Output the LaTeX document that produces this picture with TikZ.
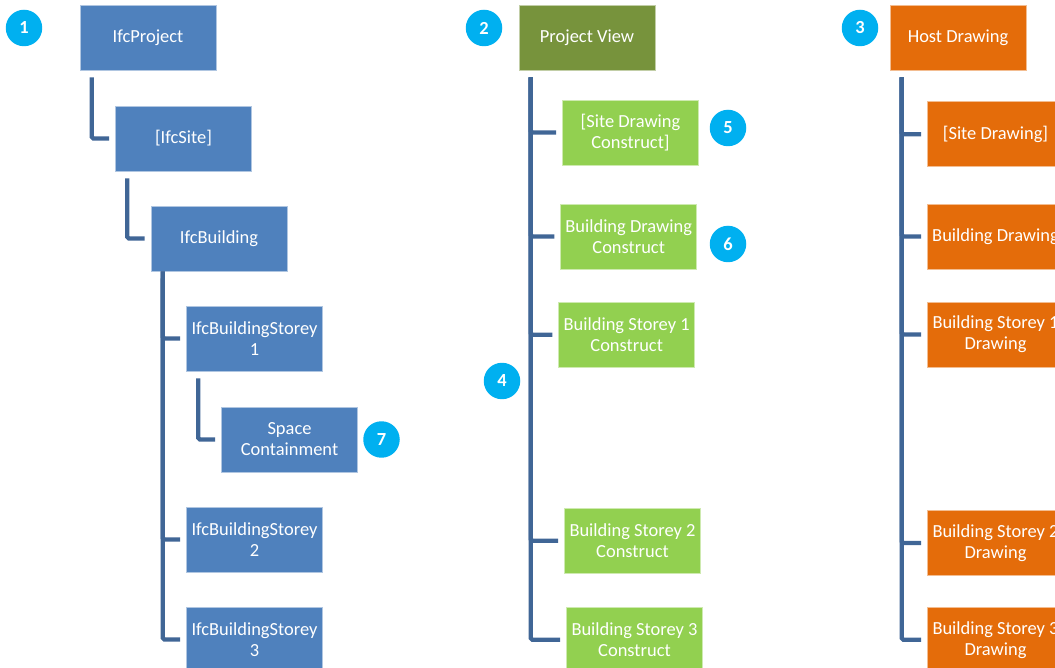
\documentclass[tikz,border=0pt]{standalone}
\usepackage{fontspec}
\setmainfont{Carlito}
\usepackage{xcolor}
\usepackage{tikz}
\usetikzlibrary{calc}

\definecolor{ifcblue}{RGB}{79,129,189}
\definecolor{viewolive}{RGB}{119,147,60}
\definecolor{constructgreen}{RGB}{146,208,80}
\definecolor{hostorange}{RGB}{228,108,10}
\definecolor{badgecyan}{RGB}{0,176,240}
\definecolor{linkblue}{RGB}{64,102,150}

\begin{document}
\begin{tikzpicture}[x=0.02cm,y=-0.02cm]
    \tikzstyle{every node}+=[inner sep=0pt, font=\fontsize{10.5}{12}\selectfont]
    \tikzstyle{box}=[rectangle, minimum width=2.72cm, minimum height=1.3cm, align=center, text=white, draw=white!55!#1, line width=0.4pt, fill=#1]
    \tikzstyle{badge}=[circle, minimum size=0.73cm, fill=badgecyan, text=white, font=\fontsize{10.5}{12}\selectfont\bfseries]
    \tikzstyle{link}=[draw=linkblue, line width=2.4pt, rounded corners=1pt]
    \useasboundingbox (0,0) rectangle (1055,668);
    \clip (0,0) rectangle (1055,668);
    \node [box=ifcblue] (proj) at (148,37.5) {IfcProject};
    \node [box=ifcblue] (site) at (183.5,138.5) {[IfcSite]};
    \node [box=ifcblue] (bldg) at (219,238.5) {IfcBuilding};
    \node [box=ifcblue] (st1) at (254.5,338.5) {IfcBuildingStorey\\1};
    \node [box=ifcblue] (space) at (289.5,439.5) {Space\\Containment};
    \node [box=ifcblue] (st2) at (254.5,539.5) {IfcBuildingStorey\\2};
    \node [box=ifcblue] (st3) at (254.5,639.5) {IfcBuildingStorey\\3};
    \node [box=viewolive] (pview) at (587,37.5) {Project View};
    \node [box=constructgreen] (sdc) at (630.5,132.5) {[Site Drawing\\Construct]};
    \node [box=constructgreen] (bdc) at (628.7,236.5) {Building Drawing\\Construct};
    \node [box=constructgreen] (bs1c) at (626.7,334.8) {Building Storey 1\\Construct};
    \node [box=constructgreen] (bs2c) at (632.5,540.8) {Building Storey 2\\Construct};
    \node [box=constructgreen] (bs3c) at (634.5,639.8) {Building Storey 3\\Construct};
    \node [box=hostorange] (host) at (958,37.5) {Host Drawing};
    \node [box=hostorange] (sd) at (995.5,134.3) {[Site Drawing]};
    \node [box=hostorange] (bd) at (995.5,236.5) {Building Drawing};
    \node [box=hostorange] (bs1d) at (995.5,334.5) {Building Storey 1\\Drawing};
    \node [box=hostorange] (bs2d) at (995.5,543) {Building Storey 2\\Drawing};
    \node [box=hostorange] (bs3d) at (995.5,639.8) {Building Storey 3\\Drawing};
    \node [badge] (b1) at (24,28) {1};
    \node [badge] (b2) at (484,28) {2};
    \node [badge] (b3) at (860,28) {3};
    \node [badge] (b4) at (502,381) {4};
    \node [badge] (b5) at (728,128) {5};
    \node [badge] (b6) at (728,244) {6};
    \node [badge] (b7) at (381.5,439.5) {7};
    \draw [link] ($(proj.south west)+(12,7)$) |- ($(site.west)+(-6,0)$);
    \draw [link] ($(site.south west)+(12,7)$) |- ($(bldg.west)+(-6,0)$);
    \draw [link] ($(bldg.south west)+(12,7)$) |- ($(st3.west)+(-6,0)$);
    \draw [link] ($(bldg.south west)+(12,0)$) |- ($(st1.west)+(-6,0)$);
    \draw [link] ($(bldg.south west)+(12,0)$) |- ($(st2.west)+(-6,0)$);
    \draw [link] ($(st1.south west)+(12,7)$) |- ($(space.west)+(-6,0)$);
    \draw [link] ($(pview.south west)+(12,7)$) |- ($(bs3c.west)+(-6,0)$);
    \foreach \n in {sdc,bdc,bs1c,bs2c}
        \draw [link] ($(pview.south west)+(12,7)$) |- ($(\n.west)+(-6,0)$);
    \draw [link] ($(host.south west)+(12,7)$) |- ($(bs3d.west)+(-6,0)$);
    \foreach \n in {sd,bd,bs1d,bs2d}
        \draw [link] ($(host.south west)+(12,7)$) |- ($(\n.west)+(-6,0)$);
\end{tikzpicture}
\end{document}
